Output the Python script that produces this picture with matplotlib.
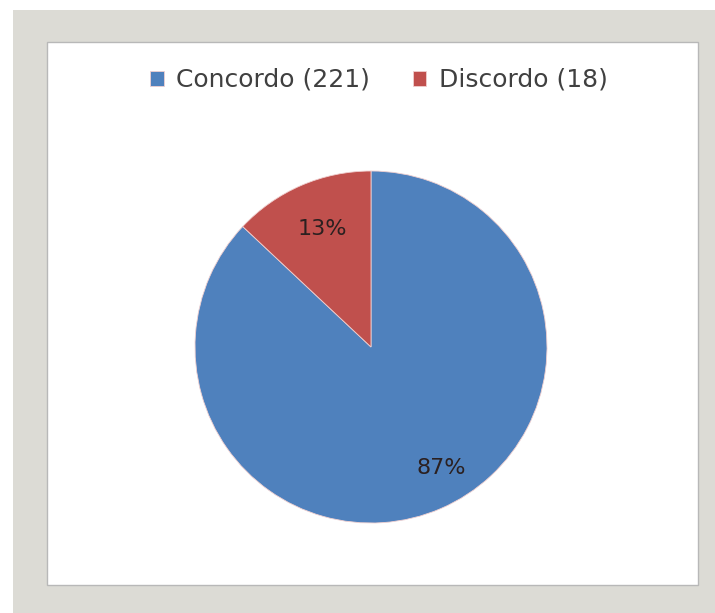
import matplotlib.pyplot as plt
from matplotlib.patches import Rectangle

# data
categories = ['Concordo', 'Discordo']
counts = [221, 18]
shares = [87, 13]
colors = ['#4f81bd', '#c0504d']

W, H = 715, 613
fig = plt.figure(figsize=(W / 100, H / 100), dpi=100)
fig.patch.set_facecolor('white')

# gray picture frame with white panel inside
fig.patches.append(Rectangle((13 / W, 0), 1 - 13 / W, (H - 10) / H,
                             transform=fig.transFigure, facecolor='#dcdbd5',
                             edgecolor='none', zorder=-2))
fig.patches.append(Rectangle((47 / W, 28 / H), (698 - 47) / W, (585 - 42) / H,
                             transform=fig.transFigure, facecolor='white',
                             edgecolor='#b8b8b8', linewidth=1.0, zorder=-1))

ax = fig.add_axes([(371 - 176) / W, (H - 347 - 176) / H, 352 / W, 352 / H])
ax.set_zorder(2)
ax.patch.set_visible(False)
wedges, texts, autotexts = ax.pie(
    shares, colors=colors, startangle=90, counterclock=False,
    autopct='%d%%', pctdistance=0.75,
    wedgeprops=dict(edgecolor='#f0d0d0', linewidth=0.6),
    textprops=dict(fontsize=16, color='#2b2020'))
ax.set_xlim(-1, 1)
ax.set_ylim(-1, 1)
ax.set_aspect('equal')
# Excel nudges the labels a little
x, y = autotexts[0].get_position()
autotexts[0].set_position((x + 0.1, y))
x, y = autotexts[1].get_position()
autotexts[1].set_position((x + 0.02, y - 0.02))

labels = ['%s (%d)' % (c, n) for c, n in zip(categories, counts)]
leg = fig.legend(wedges, labels, loc='center', bbox_to_anchor=(0.53, 1 - 80 / H),
                 ncol=2, frameon=False, fontsize=18, handlelength=0.55,
                 handleheight=0.55, handletextpad=0.5, columnspacing=1.7,
                 labelcolor='#404040')
leg.set_zorder(3)

fig.savefig('out.png', dpi=100)
